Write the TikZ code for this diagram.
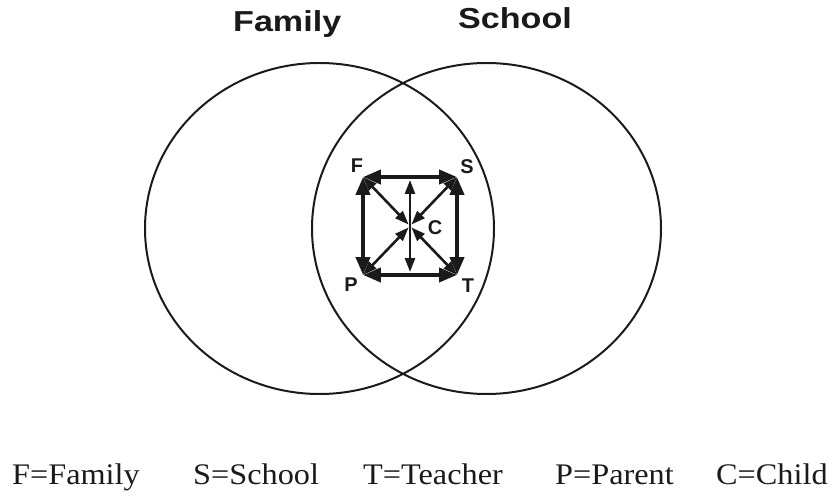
\documentclass[tikz,border=0pt]{standalone}
\usepackage{fontspec}
\usepackage{tikz}
\usetikzlibrary{arrows.meta,positioning}
\setmainfont{Liberation Serif}
\newfontfamily\headfont[FakeStretch=1.18]{Liberation Sans}
\newfontfamily\legfont[FakeStretch=1.08]{Liberation Serif}
\newfontfamily\tagfont{Liberation Sans}
\definecolor{Ink}{HTML}{1A1A1A}

\tikzset{
  ring/.style={draw=Ink,line width=2pt},
  head/.style={font=\headfont\bfseries\fontsize{29}{32}\selectfont,text=Ink,anchor=base west,inner sep=0pt},
  tag/.style={font=\tagfont\bfseries\fontsize{20}{22}\selectfont,text=Ink,inner sep=0pt},
  legend/.style={font=\legfont\fontsize{30}{34}\selectfont,text=Ink,anchor=base west,inner sep=0pt},
  side/.style={Ink,line width=4pt,{Triangle[length=18pt,width=14pt]}-{Triangle[length=18pt,width=14pt]}},
  spoke/.style={Ink,line width=2.6pt,{Triangle[length=14pt,width=10pt]}-{Triangle[length=14pt,width=10pt]}}
}

\begin{document}
\begin{tikzpicture}[x=1bp,y=-1bp]
  \useasboundingbox (0,0) rectangle (835,500);
  % the two circles
  \draw[ring] (319.5,228.5) ellipse [x radius=174.5,y radius=165.5];
  \draw[ring] (486.5,228.5) ellipse [x radius=174.5,y radius=165.5];
  \node[head] (fam) at (233,32) {Family};
  \node[head] (sch) at (458,29) {School};
  % corners of the square
  \coordinate (F) at (363,177);
  \coordinate (S) at (457,177);
  \coordinate (P) at (363,275);
  \coordinate (T) at (457,275);
  \coordinate (C) at (410,226);
  \coordinate (up) at (410,180);
  \coordinate (dn) at (410,272);
  \node[tag] (Fl) at ([shift={(-6,-11)}]F) {F};
  \node[tag] (Sl) at ([shift={(10,-10)}]S) {S};
  \node[tag] (Pl) at ([shift={(-12,10)}]P) {P};
  \node[tag] (Tl) at ([shift={(11,11)}]T) {T};
  \node[tag] (Cl) at (435,228) {C};
  % sides
  \draw[side] (F) -- (S);
  \draw[side] (P) -- (T);
  \draw[side] (F) -- (P);
  \draw[side] (S) -- (T);
  % spokes to the child
  \foreach \k in {F,S,P,T}
    \draw[spoke,shorten >=2pt] (\k) -- (C);
  \draw[spoke] (up) -- (dn);
  % key
  \node[legend] (kF) at (12,484) {F=Family};
  \node[legend] (kS) at (193,484) {S=School};
  \node[legend] (kT) at (363,484) {T=Teacher};
  \node[legend] (kP) at (555,484) {P=Parent};
  \node[legend] (kC) at (716,484) {C=Child};
\end{tikzpicture}
\end{document}
